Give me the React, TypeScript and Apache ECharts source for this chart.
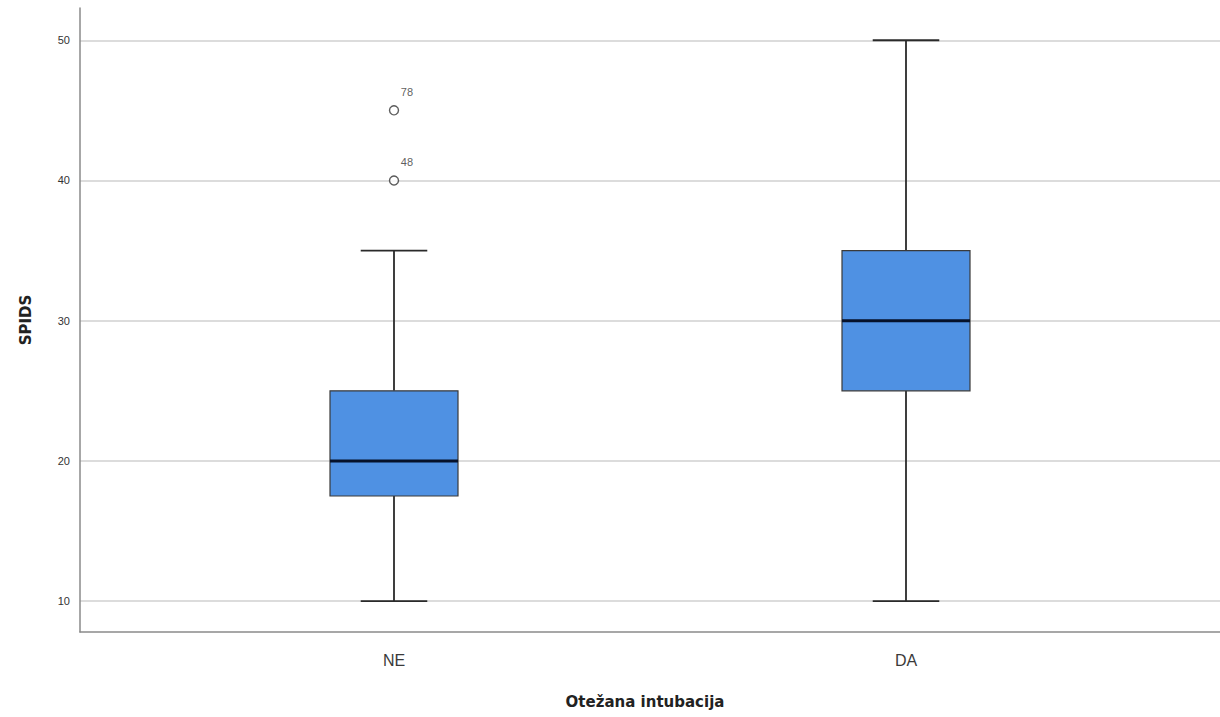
import React, { useEffect, useRef } from "react";
import * as echarts from "echarts";

const categories = ["NE", "DA"];
// [min, Q1, median, Q3, max]
const boxValues = [
  [10, 17.5, 20, 25, 35],
  [10, 25, 30, 35, 50],
];
// [categoryIndex, value, case label]
const outliers: [number, number, string][] = [
  [0, 45, "78"],
  [0, 40, "48"],
];
const yTicks = [10, 20, 30, 40, 50];
const yMin = 7.8;
const yMax = 52.3;

export default function App() {
  const ref = useRef<HTMLDivElement>(null);
  useEffect(() => {
    if (!ref.current) return;
    const chart = echarts.init(ref.current, null, { renderer: "svg" });
    const boxData = boxValues.map((b, i) => [i, ...b]);
    const option: any = {
      animation: false,
      backgroundColor: "#ffffff",
      grid: [
        { left: 80, right: 0, top: 8, bottom: 85 },
        { left: 138, right: 58, top: 8, bottom: 85 },
      ],
      xAxis: [
        {
          gridIndex: 0,
          type: "value",
          min: 0,
          max: 1,
          axisLine: { show: true, lineStyle: { color: "#8a8a8a", width: 1.5 } },
          axisTick: { show: false },
          axisLabel: { show: false },
          splitLine: { show: false },
          name: "Otežana intubacija",
          nameLocation: "middle",
          nameGap: 62,
          nameTextStyle: {
            fontFamily: "DejaVu Sans",
            fontWeight: "bold",
            fontSize: 15,
            color: "#222",
            padding: [0, 10, 0, 0],
          },
        },
        {
          gridIndex: 1,
          type: "category",
          data: categories,
          axisLine: { show: false },
          axisTick: { show: false },
          axisLabel: {
            fontFamily: "Liberation Sans",
            fontSize: 16,
            color: "#3a3a3a",
            margin: 20,
          },
        },
      ],
      yAxis: [
        {
          gridIndex: 0,
          type: "value",
          min: yMin,
          max: yMax,
          axisLine: { show: true, lineStyle: { color: "#8a8a8a", width: 1.5 } },
          axisTick: { show: false },
          axisLabel: {
            fontFamily: "Liberation Sans",
            fontSize: 11,
            color: "#333",
            margin: 10,
            formatter: (v: number) =>
              yTicks.some((t) => Math.abs(t - v) < 1e-6) ? String(Math.round(v)) : "",
          },
          splitLine: {
            show: true,
            showMinLine: false,
            showMaxLine: false,
            lineStyle: { color: "#d0d0d0", width: 1.5 },
          },
          name: "SPIDS",
          nameLocation: "middle",
          nameRotate: 90,
          nameGap: 47,
          nameTextStyle: {
            fontFamily: "DejaVu Sans",
            fontWeight: "bold",
            fontSize: 15,
            color: "#222",
          },
        },
        {
          gridIndex: 1,
          type: "value",
          min: yMin,
          max: yMax,
          show: false,
          splitLine: { show: false },
        },
      ],
      series: [
        {
          type: "custom",
          xAxisIndex: 1,
          yAxisIndex: 1,
          clip: false,
          encode: { x: 0, y: [1, 2, 3, 4, 5] },
          data: boxData,
          renderItem: (params: any, api: any) => {
            const idx = api.value(0);
            const band = api.size([1, 0])[0];
            const boxW = band * 0.25;
            const capW = boxW * 0.52;
            const pMin = api.coord([idx, api.value(1)]);
            const pQ1 = api.coord([idx, api.value(2)]);
            const pMed = api.coord([idx, api.value(3)]);
            const pQ3 = api.coord([idx, api.value(4)]);
            const pMax = api.coord([idx, api.value(5)]);
            const cx = pMed[0];
            const whisker = { stroke: "#2a2a2a", lineWidth: 1.8 };
            return {
              type: "group",
              children: [
                { type: "line", shape: { x1: cx, y1: pQ3[1], x2: cx, y2: pMax[1] }, style: whisker },
                { type: "line", shape: { x1: cx, y1: pQ1[1], x2: cx, y2: pMin[1] }, style: whisker },
                { type: "line", shape: { x1: cx - capW / 2, y1: pMax[1], x2: cx + capW / 2, y2: pMax[1] }, style: whisker },
                { type: "line", shape: { x1: cx - capW / 2, y1: pMin[1], x2: cx + capW / 2, y2: pMin[1] }, style: whisker },
                {
                  type: "rect",
                  shape: { x: cx - boxW / 2, y: pQ3[1], width: boxW, height: pQ1[1] - pQ3[1] },
                  style: { fill: "#4f91e3", stroke: "#3a3a3a", lineWidth: 1.2 },
                },
                {
                  type: "line",
                  shape: { x1: cx - boxW / 2, y1: pMed[1], x2: cx + boxW / 2, y2: pMed[1] },
                  style: { stroke: "#06122b", lineWidth: 3 },
                },
              ],
            };
          },
        },
        {
          type: "scatter",
          xAxisIndex: 1,
          yAxisIndex: 1,
          data: outliers,
          symbol: "circle",
          symbolSize: 9,
          itemStyle: { color: "#ffffff", borderColor: "#333", borderWidth: 1.4 },
          label: {
            show: true,
            formatter: (p: any) => p.value[2],
            position: [12, -19],
            fontFamily: "Liberation Sans",
            fontSize: 11,
            color: "#333",
          },
        },
      ],
    };
    chart.setOption(option);
    return () => chart.dispose();
  }, []);
  return (
    <div
      ref={ref}
      style={{ position: "fixed", left: 0, top: 0, width: 1220, height: 717 }}
    />
  );
}
